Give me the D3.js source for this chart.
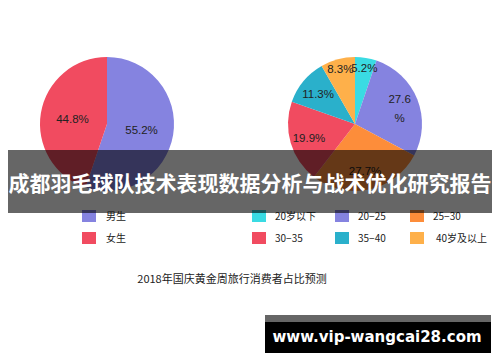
<!DOCTYPE html>
<html>
<head>
<meta charset="utf-8">
<script src="https://cdn.jsdelivr.net/npm/d3@7"></script>
<style>
  body { margin: 0; background: #fff; }
  svg { display: block; }
</style>
</head>
<body>
<svg width="500" height="362"></svg>
<script>
// gender split
var genderNames = ["男生", "女生"];
var genderValues = [55.2, 44.8];
var genderColors = ["#8583e0", "#f14b60"];

// age split
var ageNames = ["20岁以下", "20−25", "25−30", "30−35", "35−40", "40岁及以上"];
var ageValues = [5.2, 27.6, 27.7, 19.9, 11.3, 8.3];
var ageColors = ["#3adbe3", "#8583e0", "#fd8d3a", "#f14b60", "#2ab0cb", "#feb04a"];
var ageWrapped = ["20−25"]; // label too wide for its slice, breaks before "%"

var title = "成都羽毛球队技术表现数据分析与战术优化研究报告";
var caption = "2018年国庆黄金周旅行消费者占比预测";
var site = "www.vip-wangcai28.com";

var svg = d3.select("svg");
var R = 67;
var pie = d3.pie().sort(null);
var arc = d3.arc().innerRadius(0).outerRadius(R);

function drawPie(cx, cy, values, colors, names, labelR, smallR, wrapped) {
  var g = svg.append("g").attr("transform", "translate(" + cx + "," + cy + ")");
  var arcs = pie(values);
  g.selectAll("path")
    .data(arcs)
    .enter().append("path")
    .attr("d", arc)
    .attr("fill", function(d, i) { return colors[i]; });

  var lab = g.selectAll("text")
    .data(arcs)
    .enter().append("text")
    .attr("transform", function(d) {
      var r = d.data < 10 ? smallR : labelR;
      var c = d3.arc().innerRadius(r).outerRadius(r).centroid(d);
      return "translate(" + c[0] + "," + c[1] + ")";
    })
    .attr("text-anchor", "middle")
    .style("font-family", "'Liberation Sans', Arial, sans-serif")
    .style("font-size", "11.5px")
    .style("fill", "#222");

  lab.each(function(d, i) {
    var t = d3.select(this);
    var s = d3.format(".1f")(d.data);
    if (wrapped.indexOf(names[i]) >= 0) {
      t.append("tspan").attr("x", 0).attr("dy", "-0.25em").text(s);
      t.append("tspan").attr("x", 0).attr("dy", "1.6em").text("%");
    } else {
      t.attr("dy", "0.38em").text(s + "%");
    }
  });
}

drawPie(107, 124, genderValues, genderColors, genderNames, 35, 35, []);
drawPie(355, 124, ageValues, ageColors, ageNames, 48, 57, ageWrapped);

// legends
var legendFont = "'Noto Sans CJK SC', sans-serif";
var leg1 = svg.append("g").selectAll("g")
  .data(genderNames)
  .enter().append("g")
  .attr("transform", function(d, i) { return "translate(82," + (210 + i * 22) + ")"; });
leg1.append("rect").attr("width", 14).attr("height", 12)
  .attr("fill", function(d, i) { return genderColors[i]; });
leg1.append("text").attr("x", 24).attr("y", 6).attr("dy", "0.35em")
  .style("font-family", legendFont).style("font-size", "10px").style("fill", "#222")
  .text(function(d) { return d; });

var colX = [252, 335, 410];
var leg2 = svg.append("g").selectAll("g")
  .data(ageNames)
  .enter().append("g")
  .attr("transform", function(d, i) { return "translate(" + colX[i % 3] + "," + (210 + Math.floor(i / 3) * 22) + ")"; });
leg2.append("rect").attr("width", 14).attr("height", 12)
  .attr("fill", function(d, i) { return ageColors[i]; });
leg2.append("text").attr("x", function(d, i) { return i == 5 ? 26 : 23; }).attr("y", 6).attr("dy", "0.35em")
  .style("font-family", legendFont).style("font-size", "10px").style("fill", "#222")
  .text(function(d) { return d; });

svg.append("text")
  .attr("x", 232).attr("y", 279).attr("dy", "0.35em")
  .attr("text-anchor", "middle")
  .style("font-family", legendFont).style("font-size", "11px").style("fill", "#222")
  .text(caption);

// title banner over the chart
svg.append("rect")
  .attr("x", 8).attr("y", 150).attr("width", 484).attr("height", 63)
  .attr("fill", "rgba(0,0,0,0.6)");
svg.append("text")
  .attr("x", 250).attr("y", 183).attr("dy", "0.36em")
  .attr("text-anchor", "middle")
  .style("font-family", legendFont).style("font-weight", "bold")
  .style("font-size", "21px").style("fill", "#fff")
  .text(title);

// site box
svg.append("rect").attr("x", 265).attr("y", 315).attr("width", 226).attr("height", 38).attr("fill", "#000");
svg.append("rect").attr("x", 265).attr("y", 315).attr("width", 226).attr("height", 7).attr("fill", "#666");
svg.append("text")
  .attr("x", 377).attr("y", 337).attr("dy", "0.35em")
  .attr("text-anchor", "middle")
  .style("font-family", "'DejaVu Sans', sans-serif").style("font-weight", "bold")
  .style("font-size", "15px").style("fill", "#fff")
  .text(site);
</script>
</body>
</html>
